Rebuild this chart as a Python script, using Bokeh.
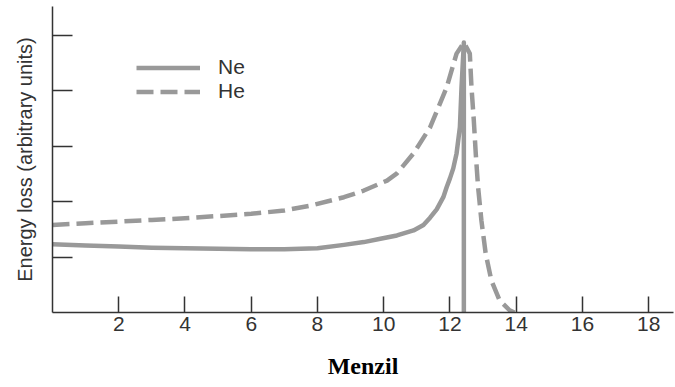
from bokeh.plotting import figure
from bokeh.models import FixedTicker, Range1d, Legend, LegendItem, CustomLabelingPolicy
from bokeh.embed import file_html
from bokeh.resources import INLINE

# ---- data ----
ne_x = [0, 1, 2, 3, 4, 5, 6, 7, 8, 8.8, 9.4, 9.9, 10.4, 10.9, 11.2, 11.4, 11.6, 11.8,
        11.9, 12.0, 12.1, 12.2, 12.3, 12.35, 12.42, 12.42]
ne_y = [1.23, 1.21, 1.19, 1.17, 1.16, 1.15, 1.14, 1.14, 1.16, 1.22, 1.27, 1.33, 1.39, 1.48,
        1.58, 1.71, 1.86, 2.08, 2.26, 2.42, 2.6, 2.87, 3.34, 4.06, 4.87, 0.0]

he_x = [0, 1, 2, 3, 4, 5, 6, 7, 7.8, 8.8, 9.4, 10.1, 10.4, 10.9, 11.4, 11.9, 12.2, 12.42,
        12.6, 12.65, 12.72, 12.78, 12.85, 12.95, 13.08, 13.25, 13.5, 13.8, 13.95]
he_y = [1.58, 1.61, 1.64, 1.67, 1.70, 1.74, 1.78, 1.84, 1.93, 2.08, 2.2, 2.38, 2.51, 2.87,
        3.34, 4.06, 4.67, 4.87, 4.67, 4.07, 3.47, 2.86, 2.26, 1.66, 1.06, 0.58, 0.22, 0.04, 0.0]

x_ticks = [2, 4, 6, 8, 10, 12, 14, 16, 18]
y_ticks = [1, 2, 3, 4, 5]
series_names = ["Ne", "He"]
x_title = "Menzil"
y_title = "Energy loss (arbitrary units)"

GRAY = "#999999"
AXIS = "#333333"

p = figure(width=675, height=387, output_backend="svg", toolbar_location=None,
           x_range=Range1d(0, 18.75), y_range=Range1d(0, 5.52),
           min_border_left=52, min_border_right=2, min_border_top=6, min_border_bottom=75)
p.outline_line_color = None
p.xgrid.visible = False
p.ygrid.visible = False
p.background_fill_color = "white"
p.border_fill_color = "white"

r_ne = p.line(ne_x, ne_y, line_color=GRAY, line_width=4.5, line_join="round")
r_he = p.line(he_x, he_y, line_color=GRAY, line_width=4.5, line_dash="17 7", line_join="round")

# x axis
xa = p.xaxis[0]
xa.ticker = FixedTicker(ticks=x_ticks)
xa.minor_tick_line_color = None
xa.major_tick_in = 16
xa.major_tick_out = 0
xa.axis_line_color = AXIS
xa.axis_line_width = 1.5
xa.major_tick_line_color = AXIS
xa.major_tick_line_width = 1.5
xa.major_label_text_font = "Liberation Sans"
xa.major_label_text_font_size = "21px"
xa.major_label_text_color = "#333333"
xa.major_label_standoff = 4
xa.axis_label = x_title
xa.axis_label_text_font = "Liberation Serif"
xa.axis_label_text_font_style = "bold"
xa.axis_label_text_font_size = "24px"
xa.axis_label_text_color = "black"
xa.axis_label_standoff = 19

# y axis (ticks only, no tick labels drawn)
hide_all = CustomLabelingPolicy(code="""
    const ids = Array.from(indices)
    for (const i of ids) indices.unset(i)
    return indices
""")
ya = p.yaxis[0]
ya.ticker = FixedTicker(ticks=y_ticks)
ya.minor_tick_line_color = None
ya.major_tick_in = 20
ya.major_tick_out = 0
ya.axis_line_color = AXIS
ya.axis_line_width = 1.5
ya.major_tick_line_color = AXIS
ya.major_tick_line_width = 1.5
ya.major_label_policy = hide_all
ya.major_label_text_font_size = "10px"
ya.major_label_standoff = 0
ya.axis_label = y_title
ya.axis_label_text_font = "Liberation Sans"
ya.axis_label_text_font_style = "normal"
ya.axis_label_text_font_size = "20px"
ya.axis_label_text_color = "#333333"
ya.axis_label_standoff = 8

legend = Legend(items=[LegendItem(label=series_names[0], renderers=[r_ne]),
                       LegendItem(label=series_names[1], renderers=[r_he])],
                location=(84, 209), padding=0, margin=0, spacing=0,
                glyph_width=64, glyph_height=21, label_height=21, label_standoff=18,
                label_text_font="Liberation Sans", label_text_font_size="21px",
                label_text_color="#333333", label_text_baseline="middle",
                border_line_color=None, background_fill_alpha=0)
p.add_layout(legend)

open("out.html", "w").write(file_html(p, INLINE))
